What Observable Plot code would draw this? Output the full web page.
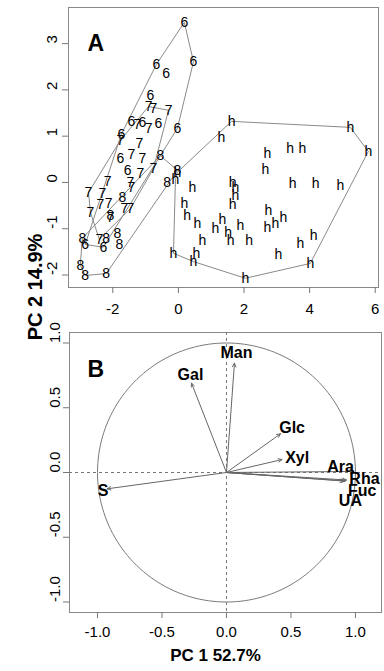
<!DOCTYPE html>
<html><head><meta charset="utf-8">
<script src="https://cdn.jsdelivr.net/npm/d3@7"></script>
<script src="https://cdn.jsdelivr.net/npm/@observablehq/plot@0.6"></script>
<style>
html,body{margin:0;padding:0;background:#fff;}
#wrap{position:relative;width:384px;height:671px;font-family:"Liberation Sans",Arial,Helvetica,sans-serif;}
#a,#b{display:block;line-height:0;}
#ylab{position:absolute;left:35px;top:287px;transform:translate(-50%,-50%) rotate(-90deg);font-weight:bold;font-size:20px;white-space:nowrap;color:#000;}
</style></head><body>
<div id="wrap"><div id="a"></div><div id="b"></div><div id="ylab">PC 2 14.9%</div></div>
<script>
// ---- Panel A: scores, grouped by label ----
const g6x = [0.18, 0.46, -0.67, -0.37, -0.85, -0.03, -0.61, -1.10, -1.43, -1.74, -1.77, -1.55, -2.84, -2.29];
const g6y = [3.46, 2.61, 2.55, 2.35, 1.88, 1.17, 1.27, 1.30, 1.32, 1.04, 0.52, 0.26, -1.34, -1.40];
const g7x = [-0.91, -0.76, -0.30, -1.25, -0.91, -1.77, -1.19, -1.43, -1.10, -0.76, -1.16, -2.16, -1.46, -2.74, -2.32, -2.13, -2.38, -1.65, -1.46, -2.68, -2.07, -2.41, -1.43];
const g7y = [1.64, 1.60, 1.56, 1.25, 1.17, 0.91, 0.84, 0.60, 0.52, 0.30, 0.19, 0.02, 0.00, -0.22, -0.24, -0.45, -0.48, -0.56, -0.56, -0.65, -0.76, -1.23, -0.11];
const g8x = [-0.55, -0.03, -0.34, -1.71, -2.07, -2.93, -2.20, -1.86, -1.80, -2.99, -2.84, -2.20];
const g8y = [0.58, 0.26, 0.00, -0.32, -0.71, -1.21, -1.21, -1.10, -1.34, -1.79, -2.01, -1.97];
const ghx = [1.62, 1.31, 5.24, 5.79, 2.71, 3.41, 3.78, 2.65, -0.03, -0.09, 0.43, 1.65, 1.74, 1.74, 3.48, 4.18, 4.94, 1.65, 0.18, 0.27, 0.58, 1.34, 1.13, 1.52, 1.89, 1.59, 2.16, 0.73, 0.55, 0.46, -0.15, 2.04, 2.74, 2.71, 2.96, 3.20, 4.12, 3.72, 3.05, 4.02];
const ghy = [1.32, 0.97, 1.19, 0.67, 0.63, 0.73, 0.73, 0.28, 0.22, 0.06, -0.11, 0.00, -0.11, -0.28, -0.02, -0.02, -0.06, -0.48, -0.45, -0.71, -0.89, -0.80, -0.99, -1.08, -0.93, -1.25, -1.25, -1.25, -1.53, -1.71, -1.53, -2.07, -0.60, -0.97, -0.89, -0.76, -1.14, -1.32, -1.56, -1.75];
const groupNames = ["6", "7", "8", "h"];
const xTicksA = [-2, 0, 2, 4, 6];
const xTickLabelsA = ["-2", "0", "2", "4", "6"];
const yTicksA = [-2, -1, 0, 1, 2, 3];
const yTickLabelsA = ["-2", "-1", "0", "1", "2", "3"];

// ---- Panel B: loadings ----
const vars = ["Man", "Gal", "Glc", "Xyl", "Ara", "Rha", "Fuc", "UA", "S"];
const pc1 = [0.062, -0.271, 0.419, 0.431, 0.987, 0.930, 0.922, 0.909, -0.925];
const pc2 = [0.844, 0.690, 0.299, 0.100, 0.008, -0.058, -0.065, -0.066, -0.126];
const labX = [0.078, -0.279, 0.509, 0.548, 0.884, 1.070, 1.052, 0.961, -0.956];
const labY = [0.921, 0.754, 0.345, 0.114, 0.046, -0.049, -0.139, -0.216, -0.139];
const ticksB = [-1, -0.5, 0, 0.5, 1];
const tickLabelsB = ["-1.0", "-0.5", "0.0", "0.5", "1.0"];

const font = '"Liberation Sans", Arial, Helvetica, sans-serif';
const pts = [];
[[g6x, g6y], [g7x, g7y], [g8x, g8y], [ghx, ghy]].forEach(([xs, ys], k) => {
  xs.forEach((x, i) => pts.push({x, y: ys[i], g: groupNames[k]}));
});

const chartA = Plot.plot({
  width: 384, height: 320,
  marginLeft: 68, marginRight: 6, marginTop: 7, marginBottom: 33,
  x: {domain: [-3.35, 6.1]},
  y: {domain: [-2.27, 3.78]},
  style: {fontFamily: font, fontSize: "15px", color: "black", background: "white", overflow: "visible"},
  marks: [
    Plot.frame({stroke: "#888"}),
    Plot.hull(pts, {x: "x", y: "y", z: "g", stroke: "#8a8a8a", strokeWidth: 1}),
    Plot.text(pts, {x: "x", y: "y", text: "g", fontSize: 14, fill: "black"}),
    Plot.axisX({ticks: xTicksA, tickSize: 6, tickPadding: 10, stroke: "#777", fill: "black", fontSize: 15, label: null,
      tickFormat: d => xTickLabelsA[xTicksA.indexOf(d)]}),
    Plot.axisY({ticks: yTicksA, tickSize: 6, stroke: "#777", label: null, tickFormat: () => ""}),
    Plot.text(yTicksA, {y: d => d, text: (d, i) => yTickLabelsA[i], frameAnchor: "left", dx: -16, rotate: -90, fontSize: 15, fill: "black"}),
    Plot.text(["A"], {frameAnchor: "top-left", dx: 19, dy: 27, textAnchor: "start", lineAnchor: "top", fontSize: 23, fontWeight: "bold", fill: "black"})
  ]
});
document.getElementById("a").appendChild(chartA);

const loadings = vars.map((name, i) => ({name, pc1: pc1[i], pc2: pc2[i], lx: labX[i], ly: labY[i]}));
const circle = d3.range(0, 361, 2).map(a => ({cx: Math.cos(a * Math.PI / 180), cy: Math.sin(a * Math.PI / 180)}));

const chartB = Plot.plot({
  width: 384, height: 351,
  marginLeft: 69, marginRight: 3, marginTop: 12, marginBottom: 59,
  x: {domain: [-1.217, 1.202]},
  y: {domain: [-1.081, 1.081]},
  style: {fontFamily: font, fontSize: "15px", color: "black", background: "white", overflow: "visible"},
  marks: [
    Plot.frame({stroke: "#888"}),
    Plot.line(circle, {x: "cx", y: "cy", stroke: "#7a7a7a", strokeWidth: 1}),
    Plot.ruleX([0], {stroke: "#777", strokeDasharray: "3,3"}),
    Plot.ruleY([0], {stroke: "#777", strokeDasharray: "3,3"}),
    Plot.arrow(loadings, {x1: () => 0, y1: () => 0, x2: "pc1", y2: "pc2", stroke: "#666", strokeWidth: 1, headLength: 6, headAngle: 50, bend: 0}),
    Plot.text(loadings, {x: "lx", y: "ly", text: "name", fontSize: 16, fontWeight: "bold", fill: "black"}),
    Plot.axisX({ticks: ticksB, tickSize: 6, tickPadding: 8, stroke: "#777", fill: "black", fontSize: 15, label: null,
      tickFormat: d => tickLabelsB[ticksB.indexOf(d)]}),
    Plot.axisY({ticks: ticksB, tickSize: 6, stroke: "#777", label: null, tickFormat: () => ""}),
    Plot.text(ticksB, {y: d => d, text: (d, i) => tickLabelsB[i], frameAnchor: "left", dx: -14, rotate: -90, fontSize: 15, fill: "black"}),
    Plot.text(["B"], {frameAnchor: "top-left", dx: 18, dy: 28, textAnchor: "start", lineAnchor: "top", fontSize: 23, fontWeight: "bold", fill: "black"}),
    Plot.text(["PC 1 52.7%"], {frameAnchor: "bottom", dx: -10, dy: 48, fontSize: 17, fontWeight: "bold", fill: "black"})
  ]
});
document.getElementById("b").appendChild(chartB);
</script>
</body></html>
